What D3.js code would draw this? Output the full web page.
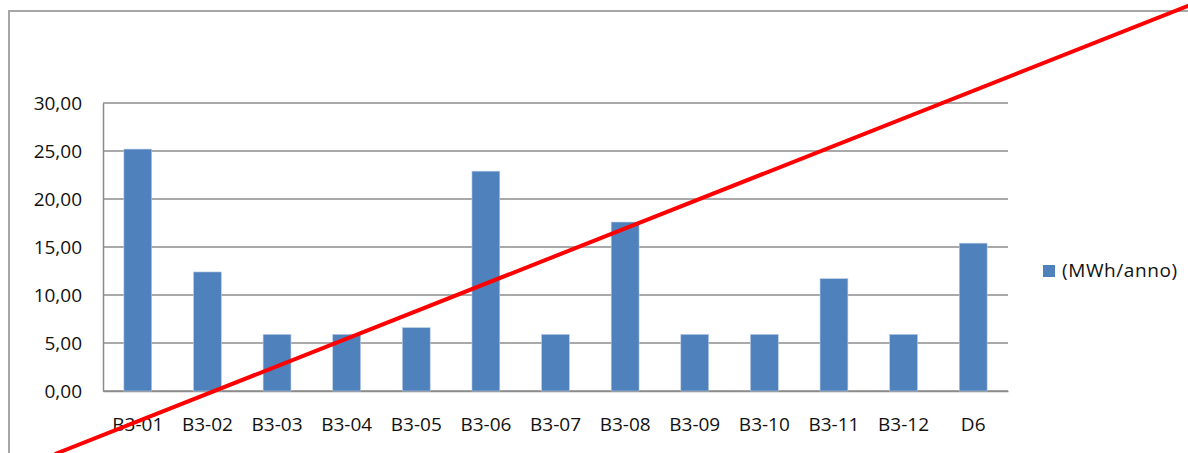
<!DOCTYPE html>
<html>
<head>
<meta charset="utf-8">
<script src="https://cdn.jsdelivr.net/npm/d3@7"></script>
<style>
  html, body { margin: 0; padding: 0; background: #fff; }
  svg { display: block; }
  text { font-family: "Open Sans", sans-serif; fill: #111; }
</style>
</head>
<body>
<svg id="chart" width="1188" height="453"></svg>
<script>
// Annual energy per building (MWh/anno)
const categories = ["B3-01","B3-02","B3-03","B3-04","B3-05","B3-06","B3-07","B3-08","B3-09","B3-10","B3-11","B3-12","D6"];
const values = [25.2, 12.4, 5.9, 5.9, 6.6, 22.9, 5.9, 17.6, 5.9, 5.9, 11.7, 5.9, 15.4];
const yTicks = [0, 5, 10, 15, 20, 25, 30];
const seriesName = "(MWh/anno)";

const W = 1188, H = 453;
const plot = { left: 103, right: 1008, top: 103, bottom: 391 };
const svg = d3.select("#chart");
const fmt = v => d3.format(".2f")(v).replace(".", ",");

// outer chart frame
svg.append("rect")
  .attr("x", 9).attr("y", 11)
  .attr("width", W + 20).attr("height", H + 20)
  .attr("fill", "none").attr("stroke", "#a6a6a6").attr("stroke-width", 2);

const x = d3.scaleBand().domain(categories)
  .range([plot.left, plot.right])
  .paddingInner(0.6).paddingOuter(0.3);
const y = d3.scaleLinear().domain([0, 30]).range([plot.bottom, plot.top]);

// horizontal gridlines
svg.append("g").selectAll("line").data(yTicks).join("line")
  .attr("x1", plot.left).attr("x2", plot.right)
  .attr("y1", d => y(d)).attr("y2", d => y(d))
  .attr("stroke", "#8c8c8c").attr("stroke-width", 1.5);

// value axis
const yAxis = svg.append("g")
  .attr("transform", `translate(${plot.left},0)`)
  .call(d3.axisLeft(y).tickValues(yTicks).tickFormat(fmt).tickSize(0).tickPadding(21));
yAxis.select(".domain").attr("stroke", "#8c8c8c").attr("stroke-width", 1.5);
yAxis.selectAll("text").attr("font-size", 19).attr("dy", "0.33em")
  .style("font-family", "'Open Sans', sans-serif").attr("fill", "#111");

// category axis
const xAxis = svg.append("g")
  .attr("transform", `translate(0,${plot.bottom})`)
  .call(d3.axisBottom(x).tickSize(0).tickPadding(27));
xAxis.select(".domain").attr("stroke", "#8c8c8c").attr("stroke-width", 1.5);
xAxis.selectAll("text").attr("font-size", 19).attr("dy", "0.71em")
  .style("font-family", "'Open Sans', sans-serif").attr("fill", "#111");

// bars
svg.append("g").selectAll("rect").data(values).join("rect")
  .attr("x", (d, i) => x(categories[i]))
  .attr("width", x.bandwidth())
  .attr("y", d => y(d))
  .attr("height", d => y(0) - y(d))
  .attr("fill", "#4f81bd")
  .attr("stroke", "#b9cde5").attr("stroke-width", 0.6);

// legend
const lg = svg.append("g").attr("transform", "translate(1043,265)");
lg.append("rect").attr("width", 12).attr("height", 12).attr("fill", "#4f81bd");
lg.append("text").attr("x", 19).attr("y", 12).attr("font-size", 19)
  .attr("letter-spacing", 0.6).text(seriesName);

// red strike line across the chart
svg.append("line")
  .attr("x1", 55).attr("y1", H + 1)
  .attr("x2", W + 2).attr("y2", 5)
  .attr("stroke", "#ff0000").attr("stroke-width", 4);
</script>
</body>
</html>
